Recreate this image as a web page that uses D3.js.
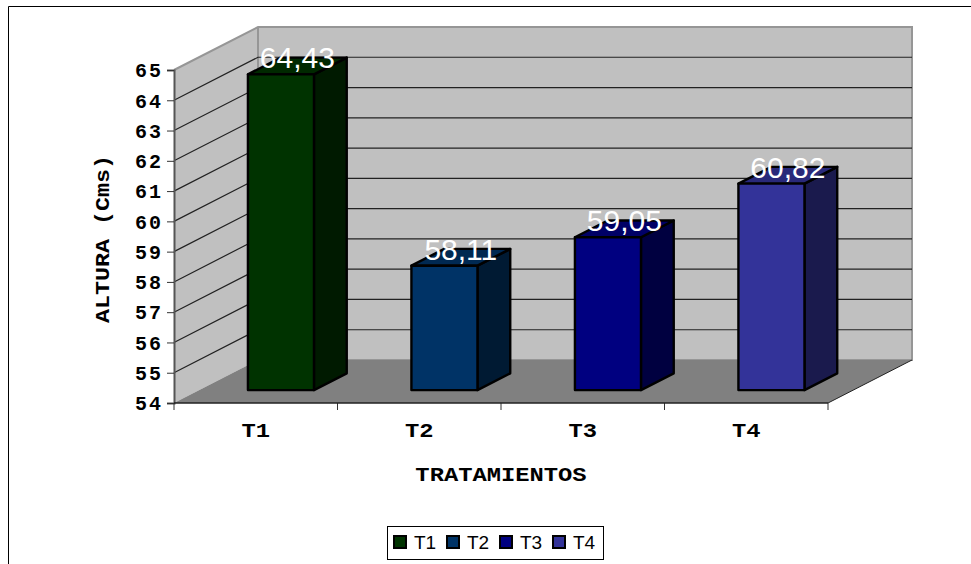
<!DOCTYPE html>
<html>
<head>
<meta charset="utf-8">
<script src="https://cdn.jsdelivr.net/npm/d3@7"></script>
<style>
	html, body { margin: 0; padding: 0; background: #fff; }
	svg { display: block; }
	.mono { font-family: "Liberation Mono", monospace; font-weight: bold; font-size: 20px; fill: #000; }
</style>
</head>
<body>
<div id="chart"></div>
<script>
const categories = ["T1", "T2", "T3", "T4"];
const values = [64.43, 58.11, 59.05, 60.82];
const valueLabels = ["64,43", "58,11", "59,05", "60,82"];
const frontColors = ["#003300", "#003366", "#000080", "#333399"];
const sideColors = ["#001a00", "#001a33", "#000040", "#1a1a4d"];
const topColors = ["#002900", "#002952", "#000066", "#29297a"];
const yTicks = [54, 55, 56, 57, 58, 59, 60, 61, 62, 63, 64, 65];

const width = 971;
const height = 564;

// the 3d box: front floor edge, and how far the back wall is pushed
const x0 = 174, x1 = 828;
const yBottom = 403, yTop = 70;
const depthX = 84, depthY = -43;
const barFront = 0.3, barBack = 0.69;
const wide = 1.19; // the mono text is stretched sideways in the original

const svg = d3.select("#chart").append("svg").attr("width", width).attr("height", height);

const band = d3.scaleBand().domain(categories).range([x0, x1]);
const y = d3.scaleLinear().domain([54, 65]).range([yBottom, yTop]);
const dx = d3.scaleLinear().domain([0, 1]).range([0, depthX]);
const dy = d3.scaleLinear().domain([0, 1]).range([0, depthY]);

const pts = (arr) => arr.map((p) => p.join(",")).join(" ");

// outer frame, only top and left show
svg.append("path").attr("d", `M8.5,${height} V6.5 H${width}`).attr("fill", "none").attr("stroke", "#000").attr("stroke-width", 1);

// walls
svg.append("polygon")
	.attr("points", pts([[x0, yBottom], [x0, yTop], [x0 + depthX, yTop + depthY], [x0 + depthX, yBottom + depthY]]))
	.attr("fill", "#c0c0c0");
svg.append("rect")
	.attr("x", x0 + depthX).attr("y", yTop + depthY)
	.attr("width", x1 - x0).attr("height", yBottom - yTop)
	.attr("fill", "#c0c0c0");

// wall edges
svg.append("path")
	.attr("d", `M${x0},${yTop} L${x0 + depthX},${yTop + depthY} H${x1 + depthX} V${yBottom + depthY} H${x0 + depthX} M${x0 + depthX},${yTop + depthY} V${yBottom + depthY}`)
	.attr("fill", "none").attr("stroke", "#969696").attr("stroke-width", 2);

// floor
svg.append("polygon")
	.attr("points", pts([[x0, yBottom], [x0 + depthX, yBottom + depthY], [x1 + depthX, yBottom + depthY], [x1, yBottom]]))
	.attr("fill", "#808080");

// grid lines, side wall then back wall
svg.append("g").selectAll("path")
	.data(yTicks.slice(1, -1))
	.join("path")
	.attr("d", (d) => `M${x0},${y(d)} L${x0 + depthX},${y(d) + depthY} H${x1 + depthX}`)
	.attr("fill", "none").attr("stroke", "#222").attr("stroke-width", 1.2);

// axes
const yAxis = d3.axisLeft(y).tickValues(yTicks).tickSize(7).tickPadding(4).tickFormat(d3.format("d"));
const yG = svg.append("g").attr("transform", `translate(${x0},0)`).call(yAxis);
yG.select(".domain").attr("stroke", "#555").attr("stroke-width", 2);
yG.selectAll("line").attr("stroke", "#333");
yG.selectAll("text").attr("class", "mono").attr("font-family", null).attr("dy", "0.34em").style("letter-spacing", "2px");

const xAxis = d3.axisBottom(band).tickSize(0).tickPadding(20);
const xG = svg.append("g").attr("transform", `translate(0,${yBottom})`).call(xAxis);
xG.select(".domain").remove();
xG.selectAll("text").attr("class", "mono").attr("font-family", null).attr("transform", `scale(${wide},1)`);

// separators between categories on the floor edge
svg.append("g").selectAll("line")
	.data(d3.range(categories.length + 1))
	.join("line")
	.attr("x1", (i) => x0 + i * band.bandwidth()).attr("x2", (i) => x0 + i * band.bandwidth())
	.attr("y1", yBottom).attr("y2", yBottom + 7)
	.attr("stroke", "#333");

svg.append("line").attr("x1", x0).attr("x2", x1).attr("y1", yBottom).attr("y2", yBottom).attr("stroke", "#222").attr("stroke-width", 1.5);
svg.append("line").attr("x1", x1).attr("x2", x1 + depthX).attr("y1", yBottom).attr("y2", yBottom + depthY).attr("stroke", "#222");

// bars
const barW = band.bandwidth() * 0.404;
const bars = svg.append("g").selectAll("g").data(categories).join("g");
const frontL = (c) => band(c) + (band.bandwidth() - barW) / 2 + dx(barFront);
const base = y(54);

bars.each(function (c, i) {
	const g = d3.select(this);
	const l = frontL(c), r = l + barW;
	const t = y(values[i]) + dy(barFront), b = base + dy(barFront);
	const ox = dx(barBack - barFront), oy = dy(barBack - barFront);
	g.append("polygon").attr("points", pts([[r, t], [r + ox, t + oy], [r + ox, b + oy], [r, b]])).attr("fill", sideColors[i]);
	g.append("polygon").attr("points", pts([[l, t], [l + ox, t + oy], [r + ox, t + oy], [r, t]])).attr("fill", topColors[i]);
	g.append("rect").attr("x", l).attr("y", t).attr("width", barW).attr("height", b - t).attr("fill", frontColors[i]);
	g.selectAll("polygon, rect").attr("stroke", "#000").attr("stroke-width", 2.4).attr("stroke-linejoin", "round");
	g.append("text")
		.text(valueLabels[i])
		.attr("x", l + barW / 2 + ox / 2)
		.attr("y", t - 6)
		.attr("text-anchor", "middle")
		.attr("font-family", "Liberation Sans, Arial, sans-serif")
		.attr("font-size", 30)
		.attr("fill", "#fff");
});

// axis titles
svg.append("text").attr("class", "mono").attr("transform", `translate(501,481) scale(${wide},1)`).attr("text-anchor", "middle").text("TRATAMIENTOS");
svg.append("text").attr("class", "mono").attr("transform", `translate(109,239) rotate(-90) scale(${wide * 0.98},1)`).attr("text-anchor", "middle").text("ALTURA (Cms)");

// legend
const legend = svg.append("g");
legend.append("rect").attr("x", 387.5).attr("y", 526.5).attr("width", 216).attr("height", 33).attr("fill", "#fff").attr("stroke", "#000");
const legendX = d3.scalePoint().domain(categories).range([394, 553]);
const item = legend.selectAll("g").data(categories).join("g").attr("transform", (c) => `translate(${legendX(c)},536)`);
item.append("rect").attr("width", 12).attr("height", 12).attr("fill", (c, i) => frontColors[i]).attr("stroke", "#000").attr("stroke-width", 2);
item.append("text").attr("x", 20).attr("y", 13).attr("font-family", "Liberation Sans, Arial, sans-serif").attr("font-size", 19).text((c) => c);
</script>
</body>
</html>
